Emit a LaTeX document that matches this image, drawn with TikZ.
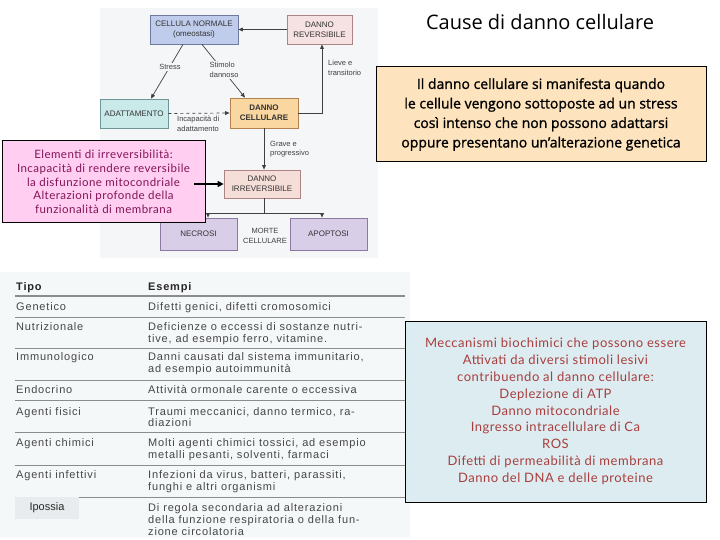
\documentclass[tikz,border=0pt]{standalone}
\usepackage{fontspec}
\setmainfont{Liberation Sans}
\newfontfamily\tabfont[LetterSpace=7.5]{Liberation Sans}
\newfontfamily\comicfont{Open Sans}
\newfontfamily\comicheavy[FakeBold=1.2]{Open Sans}
\newfontfamily\thinfont[LetterSpace=4]{Lato}
\usetikzlibrary{arrows.meta}
\definecolor{flowbg}{RGB}{244,246,248}
\definecolor{tabbg}{RGB}{245,248,249}
\definecolor{cnF}{RGB}{192,204,236}\definecolor{cnB}{RGB}{110,122,160}
\definecolor{drF}{RGB}{246,226,226}\definecolor{drB}{RGB}{172,132,132}
\definecolor{adF}{RGB}{202,233,233}\definecolor{adB}{RGB}{110,150,150}
\definecolor{dcF}{RGB}{250,214,160}\definecolor{dcB}{RGB}{180,130,80}
\definecolor{diF}{RGB}{246,222,216}\definecolor{diB}{RGB}{172,132,132}
\definecolor{mcF}{RGB}{216,206,232}\definecolor{mcB}{RGB}{140,120,162}
\definecolor{pinkF}{RGB}{255,206,240}\definecolor{pinkT}{RGB}{130,20,90}
\definecolor{yelF}{RGB}{253,228,190}
\definecolor{bluF}{RGB}{221,236,240}\definecolor{bluT}{RGB}{168,62,62}
\definecolor{tabT}{RGB}{70,70,70}
\definecolor{ipF}{RGB}{232,236,238}
\begin{document}
\begin{tikzpicture}[x=1pt,y=-1pt,
  flowbox/.style 2 args={draw=#1, fill=#2, line width=0.8pt, inner sep=0pt, align=center,
    font=\fontsize{8}{10}\selectfont, text=black!80},
  flowlabel/.style={inner sep=0pt, align=left, font=\fontsize{7.5}{9.5}\selectfont, text=black!75},
  conn/.style={draw=black!75, line width=0.7pt, -{Triangle[length=4.5pt,width=3.8pt]}},
  infobox/.style={draw=black, line width=1pt, inner sep=0pt, align=center},
  tabtxt/.style={anchor=base west, inner sep=0pt, font=\tabfont\fontsize{11}{13}\selectfont, text=tabT},
  tabhead/.style={anchor=base west, inner sep=0pt, font=\tabfont\bfseries\fontsize{11}{13}\selectfont, text=black!85},
  tabline/.style={draw=black!45, line width=0.8pt}]
\useasboundingbox (0,0) rectangle (720,540);
\fill[white] (0,0) rectangle (720,540);
% backgrounds of the two scanned panels
\fill[flowbg] (100,8) rectangle (378,258);
\fill[tabbg] (0,272) rectangle (410,537);

% ---------- flowchart ----------
\node[flowbox={cnB}{cnF}, minimum width=88pt, minimum height=29pt] (cn) at (194,29.5) {CELLULA NORMALE\\(omeostasi)};
\node[flowbox={drB}{drF}, minimum width=65pt, minimum height=29pt] (dr) at (319.5,29.5) {DANNO\\REVERSIBILE};
\node[flowbox={adB}{adF}, minimum width=68pt, minimum height=29pt] (ad) at (134,113.5) {ADATTAMENTO};
\node[flowbox={dcB}{dcF}, minimum width=68pt, minimum height=30pt, font=\bfseries\fontsize{8}{10}\selectfont] (dc) at (264,113) {DANNO\\CELLULARE};
\node[flowbox={diB}{diF}, minimum width=76pt, minimum height=28pt] (di) at (262,184) {DANNO\\IRREVERSIBILE};
\node[flowbox={mcB}{mcF}, minimum width=77pt, minimum height=32pt] (ne) at (198.5,234) {NECROSI};
\node[flowbox={mcB}{mcF}, minimum width=77pt, minimum height=32pt] (ap) at (328.5,234) {APOPTOSI};
\node[flowlabel, align=center] (mc) at (265,236) {MORTE\\CELLULARE};

\draw[conn] (dr.west) -- (cn.east);
\draw[conn] ([xshift=-11pt]cn.south) -- ([xshift=17pt]ad.north);
\draw[conn] ([xshift=8pt]cn.south) -- ([xshift=-19pt]dc.north);
\draw[conn, dashed] (ad.east) -- (dc.west);
\draw[conn] (dc.east) -| ([xshift=2.5pt]dr.south);
\draw[conn] (dc.south) -- (dc.south |- di.north);
\coordinate (fork) at (264,213);
\draw[draw=black!75, line width=0.7pt] (dc.south |- di.south) -- (fork);
\draw[conn] (fork) -| ([xshift=9.5pt]ne.north);
\draw[conn] (fork) -| ([xshift=-6.5pt]ap.north);

\node[flowlabel, anchor=center, fill=flowbg, inner sep=1.5pt] (lstress) at (170,67) {Stress};
\node[flowlabel, anchor=west, fill=flowbg, inner sep=1.5pt] (lstim) at (208,70) {Stimolo\\dannoso};
\node[flowlabel, anchor=north west] (linc) at (177,116) {Incapacità di\\adattamento};
\node[flowlabel, anchor=west] (llieve) at (328,68) {Lieve e\\transitorio};
\node[flowlabel, anchor=west] (lgrave) at (270,149) {Grave e\\progressivo};

% ---------- pink box ----------
\node[infobox, fill=pinkF, minimum width=203pt, minimum height=82pt, text=pinkT,
  font=\thinfont\fontsize{11.5}{13.7}\selectfont] (pink) at (103.5,182)
  {Elementi di irreversibilità:\\Incapacità di rendere reversibile\\la disfunzione mitocondriale\\Alterazioni profonde della\\funzionalità di membrana};
\coordinate (pstart) at (194,184);
\draw[draw=black, line width=1.6pt, -{Triangle[length=6pt,width=6pt]}] (pstart) -- (di.west);

% ---------- title ----------
\node[inner sep=0pt, font=\comicfont\fontsize{20}{24}\selectfont] (title) at (540,22) {Cause di danno cellulare};

% ---------- yellow box ----------
\node[infobox, fill=yelF, minimum width=330pt, minimum height=95pt,
  font=\comicheavy\fontsize{14}{19.5}\selectfont] (yel) at (541,114.5)
  {Il danno cellulare si manifesta quando\\le cellule vengono sottoposte ad un stress\\così intenso che non possono adattarsi\\oppure presentano un’alterazione genetica};

% ---------- table ----------
\draw[tabline, line width=1.4pt] (15,296) -- (405,296);
\foreach \yy in {317,348,380,400,432,465,497} \draw[tabline] (15,\yy) -- (405,\yy);
\node[tabhead] (h1) at (16,290.5) {Tipo};
\node[tabhead] (h2) at (148,290.5) {Esempi};
\node[tabtxt] (a1) at (16,310.5) {Genetico};
\node[tabtxt] (b1) at (148,310.5) {Difetti genici, difetti cromosomici};
\node[tabtxt] (a2) at (16,330.5) {Nutrizionale};
\node[tabtxt] (b2) at (148,330.5) {Deficienze o eccessi di sostanze nutri-};
\node[tabtxt] (c2) at (148,342.5) {tive, ad esempio ferro, vitamine.};
\node[tabtxt] (a3) at (16,360.5) {Immunologico};
\node[tabtxt] (b3) at (148,360.5) {Danni causati dal sistema immunitario,};
\node[tabtxt] (c3) at (148,372.5) {ad esempio autoimmunità};
\node[tabtxt] (a4) at (16,393.5) {Endocrino};
\node[tabtxt] (b4) at (148,393.5) {Attività ormonale carente o eccessiva};
\node[tabtxt] (a5) at (16,415.5) {Agenti fisici};
\node[tabtxt] (b5) at (148,415.5) {Traumi meccanici, danno termico, ra-};
\node[tabtxt] (c5) at (148,426.5) {diazioni};
\node[tabtxt] (a6) at (16,446.5) {Agenti chimici};
\node[tabtxt] (b6) at (148,446.5) {Molti agenti chimici tossici, ad esempio};
\node[tabtxt] (c6) at (148,458.5) {metalli pesanti, solventi, farmaci};
\node[tabtxt] (a7) at (16,478.5) {Agenti infettivi};
\node[tabtxt] (b7) at (148,478.5) {Infezioni da virus, batteri, parassiti,};
\node[tabtxt] (c7) at (148,490.5) {funghi e altri organismi};
\node[fill=ipF, minimum width=64pt, minimum height=22pt, inner sep=0pt,
  font=\fontsize{11}{13}\selectfont, text=black!85] (ip) at (47,508) {Ipossia};
\node[tabtxt] (b8) at (148,511.5) {Di regola secondaria ad alterazioni};
\node[tabtxt] (c8) at (148,523.5) {della funzione respiratoria o della fun-};
\node[tabtxt] (d8) at (148,535.5) {zione circolatoria};

% ---------- blue box ----------
\node[infobox, fill=bluF, minimum width=301pt, minimum height=181pt, text=bluT,
  font=\thinfont\fontsize{13}{16.8}\selectfont] (blu) at (555.5,411.5)
  {Meccanismi biochimici che possono essere\\Attivati da diversi stimoli lesivi\\contribuendo al danno cellulare:\\Deplezione di ATP\\Danno mitocondriale\\Ingresso intracellulare di Ca\\ROS\\Difetti di permeabilità di membrana\\Danno del DNA e delle proteine};
\end{tikzpicture}
\end{document}
